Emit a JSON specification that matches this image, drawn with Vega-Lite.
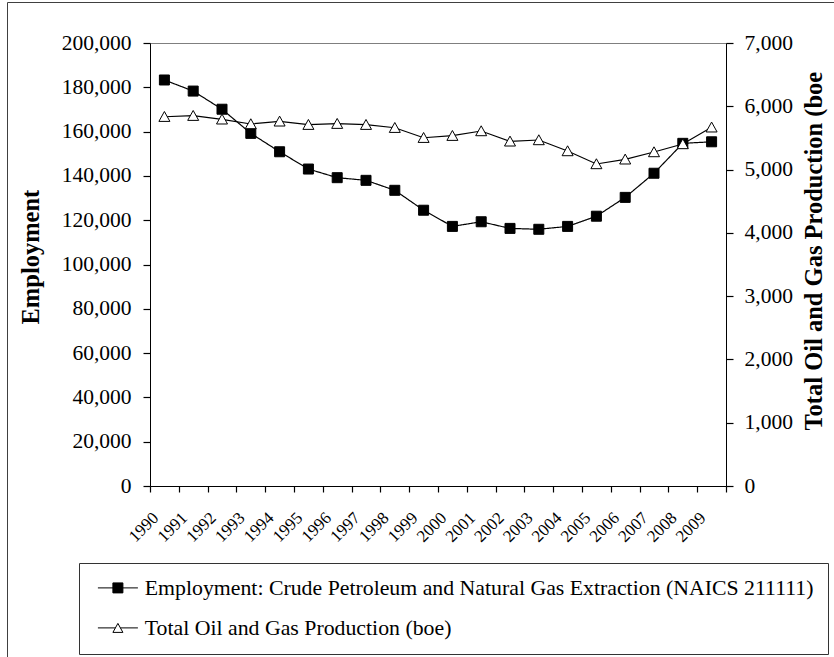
{
  "$schema": "https://vega.github.io/schema/vega-lite/v6.json",
  "width": 576,
  "height": 443,
  "autosize": {"type": "none"},
  "padding": {"left": 150, "top": 43, "right": 108, "bottom": 171},
  "background": "white",
  "config": {
    "font": "Liberation Serif",
    "view": {"stroke": "#7f7f7f", "strokeWidth": 1},
    "axis": {"labelFont": "Liberation Serif", "titleFont": "Liberation Serif", "labelColor": "black", "titleColor": "black", "domainColor": "black", "grid": false, "domainWidth": 1, "labelOverlap": false, "ticks": true, "tickColor": "black", "tickOpacity": 1, "tickWidth": 1.2},
    "legend": {"symbolOpacity": 1}
  },
  "data": {"values": [
    {"year": "1990", "series": "Employment: Crude Petroleum and Natural Gas Extraction (NAICS 211111)", "value": 183300},
    {"year": "1991", "series": "Employment: Crude Petroleum and Natural Gas Extraction (NAICS 211111)", "value": 178300},
    {"year": "1992", "series": "Employment: Crude Petroleum and Natural Gas Extraction (NAICS 211111)", "value": 170100},
    {"year": "1993", "series": "Employment: Crude Petroleum and Natural Gas Extraction (NAICS 211111)", "value": 159200},
    {"year": "1994", "series": "Employment: Crude Petroleum and Natural Gas Extraction (NAICS 211111)", "value": 150900},
    {"year": "1995", "series": "Employment: Crude Petroleum and Natural Gas Extraction (NAICS 211111)", "value": 143100},
    {"year": "1996", "series": "Employment: Crude Petroleum and Natural Gas Extraction (NAICS 211111)", "value": 139200},
    {"year": "1997", "series": "Employment: Crude Petroleum and Natural Gas Extraction (NAICS 211111)", "value": 138000},
    {"year": "1998", "series": "Employment: Crude Petroleum and Natural Gas Extraction (NAICS 211111)", "value": 133500},
    {"year": "1999", "series": "Employment: Crude Petroleum and Natural Gas Extraction (NAICS 211111)", "value": 124500},
    {"year": "2000", "series": "Employment: Crude Petroleum and Natural Gas Extraction (NAICS 211111)", "value": 117200},
    {"year": "2001", "series": "Employment: Crude Petroleum and Natural Gas Extraction (NAICS 211111)", "value": 119300},
    {"year": "2002", "series": "Employment: Crude Petroleum and Natural Gas Extraction (NAICS 211111)", "value": 116300},
    {"year": "2003", "series": "Employment: Crude Petroleum and Natural Gas Extraction (NAICS 211111)", "value": 115900},
    {"year": "2004", "series": "Employment: Crude Petroleum and Natural Gas Extraction (NAICS 211111)", "value": 117200},
    {"year": "2005", "series": "Employment: Crude Petroleum and Natural Gas Extraction (NAICS 211111)", "value": 121800},
    {"year": "2006", "series": "Employment: Crude Petroleum and Natural Gas Extraction (NAICS 211111)", "value": 130300},
    {"year": "2007", "series": "Employment: Crude Petroleum and Natural Gas Extraction (NAICS 211111)", "value": 141200},
    {"year": "2008", "series": "Employment: Crude Petroleum and Natural Gas Extraction (NAICS 211111)", "value": 154700},
    {"year": "2009", "series": "Employment: Crude Petroleum and Natural Gas Extraction (NAICS 211111)", "value": 155400},
    {"year": "1990", "series": "Total Oil and Gas Production (boe)", "value": 5835},
    {"year": "1991", "series": "Total Oil and Gas Production (boe)", "value": 5851},
    {"year": "1992", "series": "Total Oil and Gas Production (boe)", "value": 5794},
    {"year": "1993", "series": "Total Oil and Gas Production (boe)", "value": 5720},
    {"year": "1994", "series": "Total Oil and Gas Production (boe)", "value": 5762},
    {"year": "1995", "series": "Total Oil and Gas Production (boe)", "value": 5709},
    {"year": "1996", "series": "Total Oil and Gas Production (boe)", "value": 5725},
    {"year": "1997", "series": "Total Oil and Gas Production (boe)", "value": 5709},
    {"year": "1998", "series": "Total Oil and Gas Production (boe)", "value": 5661},
    {"year": "1999", "series": "Total Oil and Gas Production (boe)", "value": 5503},
    {"year": "2000", "series": "Total Oil and Gas Production (boe)", "value": 5535},
    {"year": "2001", "series": "Total Oil and Gas Production (boe)", "value": 5609},
    {"year": "2002", "series": "Total Oil and Gas Production (boe)", "value": 5446},
    {"year": "2003", "series": "Total Oil and Gas Production (boe)", "value": 5467},
    {"year": "2004", "series": "Total Oil and Gas Production (boe)", "value": 5293},
    {"year": "2005", "series": "Total Oil and Gas Production (boe)", "value": 5088},
    {"year": "2006", "series": "Total Oil and Gas Production (boe)", "value": 5162},
    {"year": "2007", "series": "Total Oil and Gas Production (boe)", "value": 5277},
    {"year": "2008", "series": "Total Oil and Gas Production (boe)", "value": 5404},
    {"year": "2009", "series": "Total Oil and Gas Production (boe)", "value": 5668}
  ]},
  "encoding": {
    "x": {
      "field": "year", "type": "ordinal",
      "scale": {"type": "band", "paddingInner": 0, "paddingOuter": 0},
      "axis": {
        "title": null, "tickBand": "extent", "labelAngle": -45, "labelAlign": "right", "labelBaseline": "middle",
        "labelFont": "Liberation Serif", "labelFontSize": 17, "labelPadding": 23, "labelOffset": -9,
        "ticks": true, "tickSize": 6, "tickColor": "black", "tickOpacity": 1, "tickWidth": 1.2,
        "encode": {"ticks": {"y": {"value": -5}}}
      }
    }
  },
  "layer": [
    {
      "transform": [{"filter": "datum.series === 'Employment: Crude Petroleum and Natural Gas Extraction (NAICS 211111)'"}],
      "encoding": {
        "y": {
          "field": "value", "type": "quantitative",
          "scale": {"domain": [0, 200000], "nice": false, "zero": true},
          "axis": {
            "title": "Employment", "format": ",d",
            "values": [0, 20000, 40000, 60000, 80000, 100000, 120000, 140000, 160000, 180000, 200000],
            "labelFont": "Liberation Serif", "labelFontSize": 21.5, "labelPadding": 12,
            "ticks": true, "tickSize": 7, "tickColor": "black", "tickOpacity": 1, "tickWidth": 1.2,
            "titleFontSize": 24.5, "titleFontWeight": "bold", "titleAngle": -90, "titleAlign": "left", "titleBaseline": "bottom",
            "titleX": -107, "titleY": 281,
            "encode": {"ticks": {"x": {"value": 6}}}
          }
        }
      },
      "layer": [
        {
          "mark": {"type": "line", "color": "black", "strokeWidth": 1.2},
          "encoding": {
            "strokeDash": {
              "datum": "frame", "type": "nominal",
              "scale": {"range": [[1, 0]]},
              "legend": {
                "orient": "none", "legendX": -143, "legendY": -41, "title": null, "padding": 420,
                "strokeColor": "#404040", "labelExpr": "''", "symbolOpacity": 0, "symbolSize": 0,
                "encode": {"legend": {"strokeWidth": {"value": 2}}}
              }
            }
          }
        },
        {"mark": {"type": "point", "shape": "square", "filled": true, "fill": "black", "stroke": "black", "strokeWidth": 1, "size": 100, "opacity": 1}}
      ]
    },
    {
      "transform": [{"filter": "datum.series === 'Total Oil and Gas Production (boe)'"}],
      "encoding": {
        "y": {
          "field": "value", "type": "quantitative",
          "scale": {"domain": [0, 7000], "nice": false, "zero": true},
          "axis": {
            "orient": "right", "title": "Total Oil and Gas Production (boe", "format": ",d",
            "values": [0, 1000, 2000, 3000, 4000, 5000, 6000, 7000],
            "labelFont": "Liberation Serif", "labelFontSize": 21.5, "labelPadding": 11,
            "ticks": true, "tickSize": 7, "tickColor": "black", "tickOpacity": 1, "tickWidth": 1.2,
            "titleFontSize": 24.5, "titleFontWeight": "bold", "titleAngle": -90, "titleAlign": "left", "titleBaseline": "bottom",
            "titleX": 100, "titleY": 387,
            "encode": {"ticks": {"x": {"value": -7}}}
          }
        }
      },
      "layer": [
        {"mark": {"type": "line", "color": "black", "strokeWidth": 1.2}},
        {"mark": {"type": "point", "shape": "M0,-0.95L1,0.85H-1Z", "filled": true, "fill": "white", "stroke": "black", "strokeWidth": 1, "size": 121, "opacity": 1}}
      ]
    },
    {
      "mark": {"type": "point", "filled": false, "stroke": "black", "color": "black", "strokeWidth": 1, "size": 400, "opacity": 0},
      "encoding": {
        "shape": {
          "field": "series", "type": "nominal",
          "scale": {"domain": ["Employment: Crude Petroleum and Natural Gas Extraction (NAICS 211111)", "Total Oil and Gas Production (boe)"], "range": ["M-2,0H2M-0.5,-0.5H0.5V0.5H-0.5Z", "M-2,0H-0.25M0.25,0H2M0,-0.45L0.5,0.45H-0.5Z"]},
          "legend": {
            "orient": "none", "legendX": -71, "legendY": 520, "direction": "vertical", "title": null,
            "padding": 14, "strokeColor": "#333333", "fillColor": "white",
            "labelFont": "Liberation Serif", "labelFontSize": 21.8, "labelColor": "black", "labelLimit": 1000,
            "symbolSize": 400, "symbolOffset": 14, "labelOffset": 16, "rowPadding": 17,
            "symbolOpacity": 1, "symbolStrokeWidth": 1
          }
        },
        "fill": {
          "field": "series", "type": "nominal",
          "scale": {"domain": ["Employment: Crude Petroleum and Natural Gas Extraction (NAICS 211111)", "Total Oil and Gas Production (boe)"], "range": ["black", "white"]},
          "legend": {
            "orient": "none", "legendX": -71, "legendY": 520, "direction": "vertical", "title": null,
            "padding": 14, "strokeColor": "#333333", "fillColor": "white",
            "labelFont": "Liberation Serif", "labelFontSize": 21.8, "labelColor": "black", "labelLimit": 1000,
            "symbolSize": 400, "symbolOffset": 14, "labelOffset": 16, "rowPadding": 17,
            "symbolOpacity": 1, "symbolStrokeWidth": 1
          }
        }
      }
    }
  ],
  "resolve": {"scale": {"y": "independent"}}
}
